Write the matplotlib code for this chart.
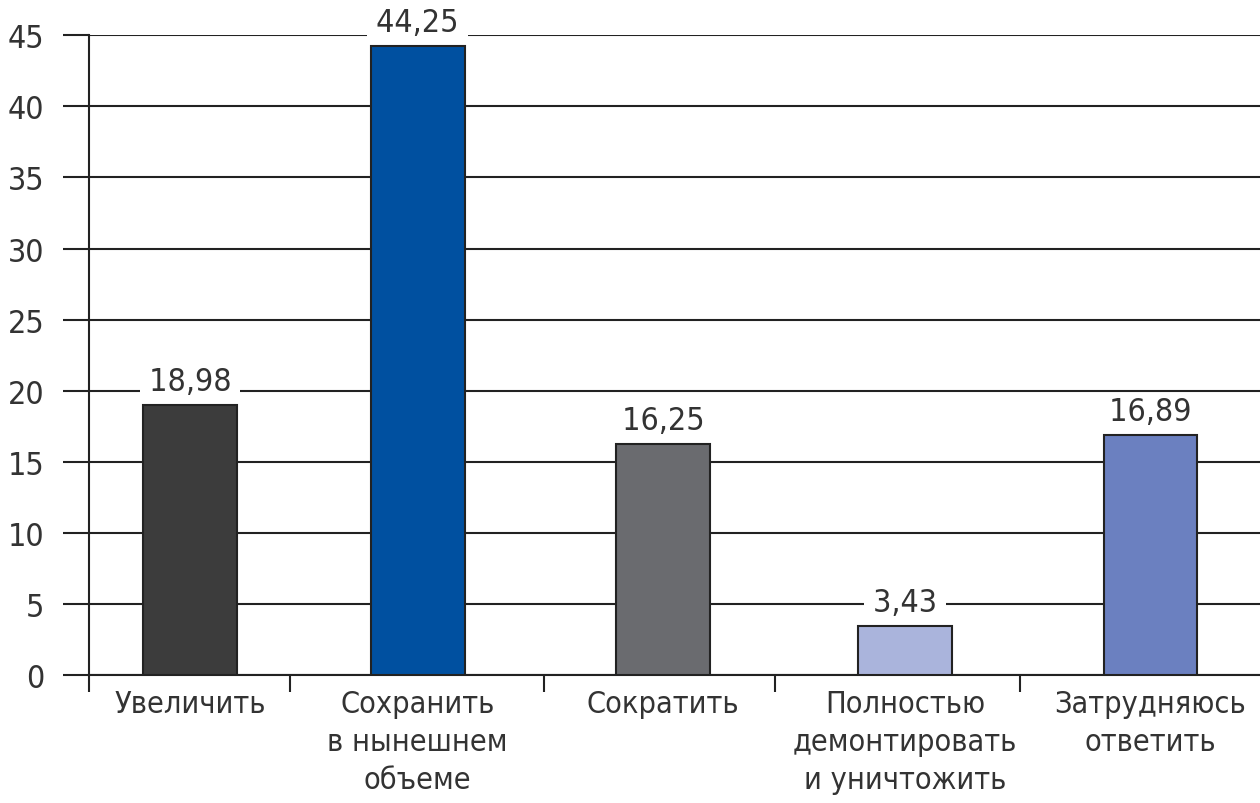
import matplotlib
matplotlib.use("Agg")
import matplotlib.pyplot as plt
from matplotlib import font_manager

categories = ["Увеличить", "Сохранить\nв нынешнем\nобъеме", "Сократить",
              "Полностью\nдемонтировать\nи уничтожить", "Затрудняюсь\nответить"]
values = [18.98, 44.25, 16.25, 3.43, 16.89]
value_labels = ["18,98", "44,25", "16,25", "3,43", "16,89"]
colors = ["#3c3c3c", "#0050a0", "#6a6b6f", "#aab4dc", "#6b80c0"]
yticks = [0, 5, 10, 15, 20, 25, 30, 35, 40, 45]

names = {f.name for f in font_manager.fontManager.ttflist}
fam = "Liberation Sans Narrow" if "Liberation Sans Narrow" in names else "DejaVu Sans"
plt.rcParams["font.family"] = [fam, "DejaVu Sans"]
plt.rcParams["font.stretch"] = "condensed"

fig = plt.figure(figsize=(12.6, 8.04), dpi=100)
ax = fig.add_axes([0.0706, 0.159, 0.93, 0.796])
# layout: slightly uneven bar placement as in the original
xpos = [0, 0.946, 1.967, 2.971, 3.992]
ax.set_axisbelow(True)
ax.bar(xpos, values, width=0.39, color=colors, edgecolor="#222222", linewidth=1.5, zorder=3)

ax.set_xlim(-0.42, 4.45)
ax.set_ylim(0, 45)
ax.set_yticks(yticks)
ax.yaxis.grid(True, color="#222222", linewidth=1.5)
for s in ["top", "right"]:
    ax.spines[s].set_visible(False)
for s in ["left", "bottom"]:
    ax.spines[s].set_color("#222222")
    ax.spines[s].set_linewidth(1.5)

ax.tick_params(axis="y", direction="out", length=19, width=1.5, color="#222222",
               labelsize=23, labelcolor="#333333", pad=13)
ax.set_xticks(xpos)
ax.set_xticklabels(categories, fontsize=22, color="#333333", linespacing=1.4)
ax.tick_params(axis="x", which="major", length=0, pad=10)
ax.set_xticks([-0.42, 0.415, 1.47, 2.43, 3.45], minor=True)
ax.tick_params(axis="x", which="minor", direction="out", length=12, width=1.5, color="#222222")

for xi, v, lab in zip(xpos, values, value_labels):
    ax.annotate(" " + lab + " ", (xi, v), xytext=(0, 17), textcoords="offset points",
                ha="center", va="center", fontsize=23, color="#333333", zorder=4,
                bbox=dict(boxstyle="square,pad=0.0", facecolor="white", edgecolor="none"))

fig.savefig("out.png", dpi=100)
